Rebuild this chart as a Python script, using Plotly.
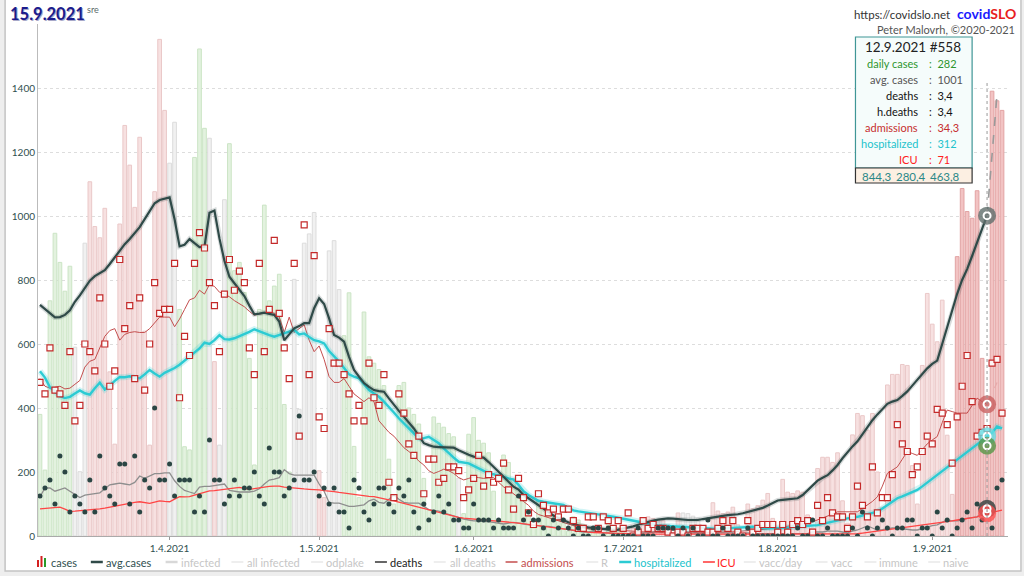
import pandas as pd
import plotly.graph_objects as go

# ---------------- data ----------------
start_date = "2021-03-06"
info_date = "2021-09-12"
chart_date = "15.9.2021"

cases = [
    380, 206, 735, 946, 855, 765, 843,
    590, 201, 915, 1107, 967, 932, 1024,
    513, 287, 975, 1283, 1159, 1027, 1246,
    640, 284, 1076, 1552, 1330, 1165, 1293,
    708, 279, 269, 1183, 1522, 1274, 1243,
    545, 284, 1051, 1226, 829, 855, 761,
    555, 222, 708, 1034, 735, 781, 818,
    411, 200, 802, 396, 915, 944, 1011,
    204, 120, 891, 923, 770, 626, 760,
    280, 120, 700, 560, 540, 520, 470,
    240, 100, 470, 480, 400, 380, 350,
    180, 80, 372, 352, 340, 320, 310,
    181, 70, 318, 370, 299, 290, 260,
    140, 50, 253, 230, 180, 150, 120,
    80, 25, 110, 100, 75, 60, 50,
    40, 15, 60, 50, 35, 25, 20,
    15, 8, 45, 30, 25, 20, 25,
    25, 8, 55, 60, 55, 50, 48,
    35, 10, 72, 72, 70, 62, 55,
    30, 10, 104, 78, 70, 75, 90,
    35, 12, 100, 85, 95, 112, 133,
    55, 19, 177, 137, 133, 141, 137,
    66, 25, 211, 246, 246, 230, 260,
    110, 40, 316, 383, 376, 331, 383,
    200, 90, 472, 505, 505, 536, 533,
    220, 100, 533, 758, 662, 607, 737,
    315, 130, 873, 1086, 1014, 993, 1079,
    555, 282, 1390, 1360, 1330,
]

avg_cases = [
    722, 708, 697, 683, 684, 691, 705, 732, 752, 774,
    798, 812, 822, 831, 850, 872, 893, 912, 928, 946,
    965, 990, 1015, 1040, 1050, 1055, 1058, 990, 905, 910,
    928, 915, 903, 904, 1010, 1017, 930, 860, 810, 790,
    770, 750, 720, 693, 695, 698, 694, 691, 670, 612,
    630, 649, 656, 665, 665, 712, 743, 725, 680, 628,
    620, 607, 560, 519, 498, 478, 466, 456, 453, 451,
    430, 409, 391, 373, 355, 336, 313, 290, 284, 279,
    278, 277, 276, 276, 268, 260, 254, 248, 246, 245,
    231, 217, 201, 185, 170, 154, 145, 128, 118, 107,
    96, 86, 73, 64, 56, 49, 43, 38, 33, 29,
    27, 25, 23, 22, 21, 19, 20, 23, 27, 30,
    35, 40, 45, 48, 51, 54, 55, 54, 52, 50,
    50, 50, 50, 53, 56, 59, 61, 63, 65, 66,
    68, 71, 75, 79, 83, 88, 95, 103, 111, 113,
    115, 117, 118, 128, 142, 158, 173, 182, 190, 205,
    222, 243, 262, 280, 296, 318, 342, 362, 380, 398,
    413, 420, 425, 438, 452, 470, 488, 505, 524, 538,
    548, 600, 652, 705, 757, 800, 834, 875, 920, 960, 1001,
]
avg_cases_week_before = 860
avg_cases_projection = [1001, 1380]   # 12.9 -> 14.9 (dashed)

deaths = [
    5,
    6, 7, 4, 10, 8, 3, 5, 4, 3, 7, 3, 10, 6, 5, 4, 9, 9, 4, 10, 3,
    7, 6, 16, 7, 7, 9, 5, 7, 7, 7, 3, 5, 3, 12, 7, 7, 4, 5, 7, 5,
    6, 6, 8, 5, 4, 11, 8, 8,
    5, 6, 7, 15, 7, 7, 8, 5, 6, 4, 6, 3, 3, 1, 7, 6, 3, 2, 4, 6,
    6, 4, 3, 6, 5, 7, 3, 1, 4, 2, 3, 5, 3, 4, 2, 2, 1, 1, 4, 2,
    2, 2, 1, 2, 1, 1, 1, 5,
    2, 3, 2, 2, 1, 0, 2, 1, 2, 1, 0, 1, 0, 0, 1, 1, 0, 1, 0, 0,
    0, 0, 0, 1, 0, 0, 0, 1, 1, 1, 1, 0, 1, 0, 1, 0, 0, 2, 0, 0,
    1, 0, 0, 0, 0, 1, 0, 0, 0,
    0, 0, 0, 0, 0, 0, 1, 0, 0, 2, 0, 0, 1, 0, 0, 0, 0, 1, 0, 3,
    1, 0, 1, 2, 1, 0, 1, 1, 2, 2, 0, 1, 1, 0, 3, 1, 2, 0, 1, 2,
    3, 1, 4, 2, 3, 1, 6, 7,
]

deaths_avg = [
    4.9, 6.0, 6.0, 5.6, 5.8, 6.0, 5.6, 5.2, 4.8, 5.1,
    5.2, 5.3, 5.4, 5.9, 6.4, 6.5, 6.6, 6.5, 6.4, 6.7,
    7.5, 7.2, 7.5, 7.8, 7.8, 7.9, 7.9, 6.9, 6.2, 5.7,
    5.5, 5.3, 6.1, 6.2, 6.2, 6.3, 6.4, 6.5, 5.7, 5.6,
    5.5, 5.5, 5.5, 5.6, 5.9, 6.5, 7.0, 7.1, 7.3, 8.3,
    7.8, 7.6, 7.6, 7.6, 7.6, 7.6, 6.5, 5.6, 4.2, 4.1,
    4.1, 3.9, 3.7, 3.7, 3.8, 3.9, 4.4, 4.6, 4.2, 4.1,
    4.6, 5.1, 4.6, 4.2, 4.1, 4.1, 4.1, 3.7, 3.3, 3.2,
    3.1, 2.9, 2.7, 2.5, 2.3, 2.1, 2.0, 1.9, 1.9, 1.8,
    1.8, 1.7, 1.6, 1.5, 1.6, 1.7, 1.6, 1.5, 1.4, 1.3,
    1.3, 1.2, 1.2, 1.1, 1.0, 0.9, 0.8, 0.7, 0.6, 0.5,
    0.5, 0.6, 0.5, 0.4, 0.4, 0.3, 0.3, 0.3, 0.3, 0.3,
    0.4, 0.4, 0.4, 0.5, 0.6, 0.7, 0.7, 0.7, 0.6, 0.6,
    0.5, 0.5, 0.4, 0.3, 0.4, 0.4, 0.4, 0.4, 0.4, 0.4,
    0.3, 0.3, 0.4, 0.3, 0.3, 0.3, 0.3, 0.3, 0.2, 0.2,
    0.2, 0.3, 0.3, 0.3, 0.3, 0.5, 0.5, 0.5, 0.6, 0.6,
    0.6, 0.5, 0.4, 0.6, 0.75, 1.0, 1.25, 1.0, 0.75, 0.8,
    0.9, 1.0, 1.0, 0.9, 0.8, 0.75, 0.75, 0.9, 1.1, 1.3,
    1.4, 1.7, 2.0, 1.9, 1.9, 2.0, 2.2, 2.3, 2.4, 2.9, 3.4,
]

admissions = [
    40,
    37, 49, 38, 37, 34, 48, 30, 34, 50, 48, 43, 62, 50, 39, 43, 72, 54, 60, 41, 62,
    38, 50, 66, 58, 59, 59, 71, 36, 52, 47, 71, 79, 75, 66, 60, 48, 63, 72, 64, 69,
    66, 49, 42, 71, 48, 59, 77, 58,
    49, 41, 71, 26, 81, 42, 73, 31, 28, 54, 45, 45, 42, 37, 30, 34, 30, 45, 36, 34,
    42, 14, 10, 37, 32, 24, 21, 26, 11, 20, 20, 14, 15, 18, 18, 17, 10, 12, 15, 21,
    13, 16, 14, 15, 19, 12, 7, 15,
    10, 6, 3, 11, 8, 6, 7, 5, 7, 7, 4, 2, 2, 5, 5, 2, 5, 4, 2, 4,
    2, 6, 0, 1, 4, 2, 3, 2, 2, 1, 0, 1, 1, 0, 2, 2, 2, 1, 1, 2,
    4, 2, 4, 1, 0, 4, 1, 2, 3,
    3, 3, 1, 3, 1, 3, 4, 3, 4, 1, 8, 4, 10, 6, 5, 5, 2, 5, 13, 8,
    5, 18, 6, 10, 10, 16, 29, 24, 22, 16, 18, 22, 26, 24, 33, 32, 29, 19, 31, 39,
    47, 35, 26, 27, 28, 45, 46, 32,
]

admissions_avg = [
    41, 39, 38.5, 38.7, 39, 38.3, 38.5, 39.5, 40.5, 44,
    45.5, 46, 49, 52, 53.5, 54, 51, 52.5, 53, 53.2,
    53, 53, 54, 55.5, 57, 57, 57, 54.5, 56.5, 59,
    61.5, 62, 64, 63, 65.5, 65, 63.5, 63, 62.3, 61.3,
    60.5, 59.7, 58.5, 57.5, 57.8, 58, 58.2, 58, 57, 53,
    57, 53, 54, 55, 51, 48, 49.5, 46, 41.5, 40,
    40, 41, 39, 37, 36, 35, 36, 35, 30, 28.5,
    27, 26, 24.5, 23, 22, 21, 19.5, 18.5, 17, 16.3,
    16.8, 17.4, 17, 16.3, 15.2, 14.6, 15, 15.4, 15.2, 15,
    15.2, 15.2, 14, 12.8, 12, 11.1, 10, 9, 8, 6.5,
    5.6, 5.2, 4.8, 4.4, 4, 3.5, 3.1, 2.6, 2.3, 2.1,
    1.9, 1.7, 1.7, 1.7, 1.6, 1.6, 1.5, 1.4, 1.3, 1.2,
    1.1, 1.1, 1.0, 1.0, 1.0, 0.9, 0.8, 0.7, 0.7, 0.7,
    0.7, 0.7, 0.8, 0.9, 1.0, 1.0, 1.0, 1.1, 1.1, 1.1,
    1.2, 1.3, 1.4, 1.4, 1.5, 1.6, 1.8, 2.0, 2.2, 2.4,
    2.6, 2.8, 3.0, 3.2, 3.3, 3.7, 4.2, 4.6, 5.0, 5.7,
    6.3, 6.3, 6.2, 6.3, 6.3, 7.2, 8.1, 9.0, 10.2, 13.0,
    16.3, 17.2, 18, 20, 22, 21.5, 21, 22.5, 24, 25,
    25.9, 29.5, 32.8, 32.4, 32, 32, 32, 34, 35.9, 35, 34.3,
]
admissions_projection = [34.3, 40.0]   # 12.9 -> 14.9 (dashed)

hospitalized = [
    515, 495, 465, 450, 437, 431, 435, 445, 455, 446,
    442, 462, 479, 458, 470, 485, 497, 496, 499, 494,
    493, 505, 519, 508, 498, 510, 517, 525, 535, 548,
    562, 575, 586, 604, 600, 612, 628, 615, 614, 618,
    624, 630, 638, 646, 640, 632, 628, 623, 628, 633,
    638, 644, 630, 633, 622, 612, 608, 602, 578, 562,
    545, 525, 505, 498, 493, 475, 456, 445, 435, 420,
    404, 386, 368, 352, 336, 320, 305, 306, 310, 300,
    290, 274, 258, 245, 232, 229, 227, 219, 211, 204,
    196, 193, 190, 185, 180, 176, 160, 140, 128, 118,
    110, 107, 104, 101, 99, 97, 88, 80, 77, 75,
    73, 71, 68, 66, 63, 60, 57, 54, 51, 48,
    45, 41, 38, 35, 33, 32, 31, 29, 28, 27,
    26, 25, 24, 23, 22, 21, 22, 23, 24, 25,
    26, 27, 28, 29, 26, 24, 24, 24, 24, 25,
    26, 28, 29, 30, 31, 33, 34, 38, 42, 46,
    50, 52, 55, 57, 60, 64, 68, 72, 76, 86,
    97, 107, 118, 124, 131, 137, 144, 155, 167, 179,
    191, 203, 214, 226, 237, 250, 262, 274, 287, 300,
    312, 322, 342, 336,
]

icu = [
    85, 86, 88, 89, 90, 84, 77, 78, 79, 80,
    81, 83, 85, 87, 90, 93, 97, 101, 104, 105,
    107, 104, 102, 106, 110, 108, 107, 115, 123, 122,
    123, 128, 133, 137, 141, 142, 144, 146, 149, 151,
    152, 149, 146, 148, 151, 153, 155, 156, 156, 153,
    151, 149, 148, 147, 146, 146, 144, 142, 141, 139,
    136, 134, 131, 128, 127, 126, 124, 123, 119, 116,
    113, 110, 106, 102, 98, 94, 90, 86, 81, 76,
    72, 68, 64, 60, 58, 56, 54, 52, 51, 50,
    49, 48, 46, 45, 43, 42, 40, 38, 35, 33,
    30, 28, 26, 24, 22, 20, 18, 16, 14, 13,
    12, 11, 10, 9, 9, 8, 8, 8, 7, 7,
    7, 6, 6, 7, 6, 6, 5, 6, 6, 7,
    6, 6, 5, 6, 6, 7, 6, 6, 5, 6,
    6, 7, 6, 6, 6, 5, 6, 6, 7, 6,
    6, 5, 6, 6, 6, 5, 5, 6, 6, 6,
    6, 6, 6, 7, 7, 9, 11, 13, 15, 17,
    19, 21, 24, 26, 28, 30, 32, 34, 36, 38,
    40, 42, 45, 47, 50, 52, 55, 57, 60, 65,
    71, 74, 77, 81,
]

# plotted on the cases axis with these multipliers
DEATHS_SCALE = 25
ADMISSIONS_SCALE = 12

info_rows = [
    ("daily cases", "282", "#2e962e"),
    ("avg. cases", "1001", "#555555"),
    ("deaths", "3,4", "#111111"),
    ("h.deaths", "3,4", "#111111"),
    ("admissions", "34,3", "#c62e2e"),
    ("hospitalized", "312", "#22c3cc"),
    ("ICU", "71", "#ff2020"),
]
info_footer = ["844,3", "280,4", "463,8"]

month_ticks = ["2021-04-01", "2021-05-01", "2021-06-01", "2021-07-01", "2021-08-01", "2021-09-01"]
month_labels = ["1.4.2021", "1.5.2021", "1.6.2021", "1.7.2021", "1.8.2021", "1.9.2021"]
y_ticks = [0, 200, 400, 600, 800, 1000, 1200, 1400]

# ---------------- derived ----------------
dates = pd.date_range(start_date, periods=len(cases), freq="D")
info_ts = pd.Timestamp(info_date)
n_avg = len(avg_cases)
d_avg = dates[:n_avg]
DAY = 86400000
FONT = "Lato"

fills, borders = [], []
for i, c in enumerate(cases):
    if i < n_avg:
        prev = avg_cases[i - 7] if i >= 7 else avg_cases_week_before
        r = avg_cases[i] / prev
    else:
        r = c / cases[i - 7]
    hi = dates[i] >= info_ts - pd.Timedelta(days=6)
    if r > 1.12:
        f, b = ("#f2c3c3", "#e2a3a3") if hi else ("#f7e1e1", "#eac8c8")
    elif r < 0.92:
        f, b = ("#cfe8c8", "#aed3a6") if hi else ("#e3f2df", "#cbe4c5")
    else:
        f, b = ("#e4e4e4", "#cccccc") if hi else ("#f1f1f1", "#dcdcdc")
    fills.append(f)
    borders.append(b)

# ---------------- figure ----------------
PL, PR, PT, PB = 35, 1008, 24, 536


def px(x):
    return (x - PL) / (PR - PL)


def py(y):
    return (PB - y) / (PB - PT)


fig = go.Figure()

fig.add_trace(go.Bar(
    x=dates, y=cases, width=0.74 * DAY,
    marker=dict(color=fills, line=dict(color=borders, width=1)),
    hoverinfo="skip", name="cases",
))

fig.add_trace(go.Scatter(
    x=d_avg, y=[v * DEATHS_SCALE for v in deaths_avg], mode="lines",
    line=dict(color="#8e8e8e", width=1.3), hoverinfo="skip", name="deaths"))
fig.add_trace(go.Scatter(
    x=dates, y=icu, mode="lines",
    line=dict(color="#ff4545", width=1.3), hoverinfo="skip", name="ICU"))
fig.add_trace(go.Scatter(
    x=d_avg, y=[v * ADMISSIONS_SCALE for v in admissions_avg], mode="lines",
    line=dict(color="#c44e4e", width=1), hoverinfo="skip", name="admissions"))
fig.add_trace(go.Scatter(
    x=[d_avg[-1], dates[n_avg + 1]],
    y=[v * ADMISSIONS_SCALE for v in admissions_projection], mode="lines",
    line=dict(color="#e6aaaa", width=1.2, dash="dash"), hoverinfo="skip"))
fig.add_trace(go.Scatter(
    x=dates, y=hospitalized, mode="lines",
    line=dict(color="rgba(44,203,211,0.22)", width=6), hoverinfo="skip"))
fig.add_trace(go.Scatter(
    x=dates, y=hospitalized, mode="lines",
    line=dict(color="#2ccbd3", width=2.4), hoverinfo="skip", name="hospitalized"))
fig.add_trace(go.Scatter(
    x=d_avg, y=avg_cases, mode="lines",
    line=dict(color="rgba(40,60,60,0.18)", width=5), hoverinfo="skip"))
fig.add_trace(go.Scatter(
    x=d_avg, y=avg_cases, mode="lines",
    line=dict(color="#2f4a48", width=2.2), hoverinfo="skip", name="avg.cases"))
fig.add_trace(go.Scatter(
    x=[d_avg[-1], dates[n_avg + 1]], y=avg_cases_projection, mode="lines",
    line=dict(color="#9a9a9a", width=1.6, dash="dash"), hoverinfo="skip"))

fig.add_trace(go.Scatter(
    x=dates, y=[v * ADMISSIONS_SCALE for v in admissions], mode="markers",
    marker=dict(symbol="square", size=6, color="rgba(255,255,255,0.85)",
                line=dict(color="#c42a2a", width=1.2)),
    hoverinfo="skip"))
fig.add_trace(go.Scatter(
    x=dates, y=[v * DEATHS_SCALE for v in deaths], mode="markers",
    marker=dict(symbol="circle", size=5, color="#2b4644"),
    hoverinfo="skip"))

# highlight rings on the info date
k = n_avg - 1
ring_vals = [avg_cases[k], admissions_avg[k] * ADMISSIONS_SCALE, hospitalized[k],
             cases[k], deaths_avg[k] * DEATHS_SCALE, icu[k]]
ring_cols = ["rgba(95,110,108,0.8)", "rgba(200,95,95,0.8)", "rgba(100,220,226,0.8)",
             "rgba(85,150,70,0.8)", "rgba(60,70,68,0.85)", "rgba(255,80,80,0.8)"]
fig.add_trace(go.Scatter(
    x=[info_ts] * len(ring_vals), y=ring_vals, mode="markers",
    marker=dict(size=18, color=ring_cols), hoverinfo="skip"))
fig.add_trace(go.Scatter(
    x=[info_ts] * len(ring_vals), y=ring_vals, mode="markers",
    marker=dict(symbol="circle-open", size=7, color="white", line=dict(width=2)),
    hoverinfo="skip"))

shapes = []
annos = []

# card
shapes.append(dict(type="rect", xref="paper", yref="paper", layer="below",
                   x0=px(2), x1=px(1021), y0=py(571), y1=py(-2),
                   fillcolor="white", line=dict(color="#c4c4c4", width=1.5)))
# info-date line
shapes.append(dict(type="line", xref="x", yref="y", x0=info_ts, x1=info_ts,
                   y0=0, y1=1420, line=dict(color="#9a9a9a", width=1, dash="dot")))

# title
annos.append(dict(x=px(6), y=py(15), text="<b>" + chart_date + "</b>",
                  font=dict(size=16.5, color="#a8a8c8", family=FONT)))
annos.append(dict(x=px(5), y=py(14), text="<b>" + chart_date + "</b>",
                  font=dict(size=16.5, color="#1b1b8c", family=FONT)))
annos.append(dict(x=px(82), y=py(9), text="sre",
                  font=dict(size=9, color="#5a6a6a", family=FONT)))
# header right
annos.append(dict(x=px(952), y=py(14), text="https://covidslo.net", xanchor="right",
                  font=dict(size=11.5, color="#333333", family=FONT)))
annos.append(dict(x=px(1018), y=py(13), xanchor="right",
                  text="<b><span style='color:#1a1aff'>covid</span><span style='color:#e82020'>SLO</span></b>",
                  font=dict(size=14, family=FONT)))
annos.append(dict(x=px(1017), y=py(29), text="Peter Malovrh, ©2020-2021", xanchor="right",
                  font=dict(size=11, color="#555555", family=FONT)))

# info box
shapes.append(dict(type="rect", xref="paper", yref="paper",
                   x0=px(855), x1=px(972), y0=py(168), y1=py(37),
                   fillcolor="#f5fcfb", line=dict(color="#3f9696", width=1.2)))
shapes.append(dict(type="rect", xref="paper", yref="paper",
                   x0=px(855), x1=px(972), y0=py(183), y1=py(168),
                   fillcolor="#fcefe2", line=dict(color="#333333", width=1.2)))
annos.append(dict(x=px(913), y=py(47), xanchor="center",
                  text=pd.Timestamp(info_date).strftime("%-d.%-m.%Y") + " #558",
                  font=dict(size=13.5, color="#222222", family=FONT)))
for j, (lab, val, col) in enumerate(info_rows):
    yy = py(63 + 16 * j)
    annos.append(dict(x=px(920), y=yy, xanchor="right", text=lab,
                      font=dict(size=11, color=col, family=FONT)))
    annos.append(dict(x=px(927), y=yy, xanchor="left", text=":  " + val,
                      font=dict(size=11, color=col, family=FONT)))
for xc, t in zip([877, 911, 945], info_footer):
    annos.append(dict(x=px(xc), y=py(176), xanchor="center", text=t,
                      font=dict(size=11.5, color="#2a8888", family=FONT)))

# legend
LY = 562
for (x0, x1, y0, col) in [(34, 36, 560, "#d42020"), (37.5, 39.5, 556, "#d42020"), (41, 43, 558, "#2a9a2a")]:
    shapes.append(dict(type="rect", xref="paper", yref="paper", x0=px(x0), x1=px(x1),
                       y0=py(567), y1=py(y0), fillcolor=col, line=dict(width=0)))
annos.append(dict(x=px(46), y=py(LY), xanchor="left", text="cases",
                  font=dict(size=11, color="#2f4f4f", family=FONT)))
legend_items = [
    ("avg.cases", "#2f4a48", 2.5, 88, 101, "#2f4f4f"),
    ("infected", "#d8d8d8", 2.5, 163, 176, "#c6c6c6"),
    ("all infected", "#dddddd", 1, 229, 243, "#c6c6c6"),
    ("odplake", "#dddddd", 1, 309, 322, "#c6c6c6"),
    ("deaths", "#333333", 1.5, 373, 386, "#1a1a1a"),
    ("all deaths", "#dddddd", 1, 432, 446, "#c6c6c6"),
    ("admissions", "#c44e4e", 1.5, 504, 517, "#c44e4e"),
    ("R", "#dddddd", 1, 585, 598, "#c6c6c6"),
    ("hospitalized", "#2ccbd3", 2.5, 618, 631, "#22c3cc"),
    ("ICU", "#ff3535", 1.5, 702, 714, "#ff2020"),
    ("vacc/day", "#dddddd", 1, 743, 756, "#c6c6c6"),
    ("vacc", "#dddddd", 1, 815, 828, "#c6c6c6"),
    ("immune", "#dddddd", 1, 864, 877, "#c6c6c6"),
    ("naive", "#dddddd", 1, 928, 941, "#c6c6c6"),
]
for name, lc, lw, xl, xt, tc in legend_items:
    shapes.append(dict(type="line", xref="paper", yref="paper", x0=px(xl), x1=px(xl + 12),
                       y0=py(LY), y1=py(LY), line=dict(color=lc, width=lw)))
    annos.append(dict(x=px(xt), y=py(LY), xanchor="left", text=name,
                      font=dict(size=11, color=tc, family=FONT)))

for a in annos:
    a.setdefault("xref", "paper")
    a.setdefault("yref", "paper")
    a.setdefault("showarrow", False)
    a.setdefault("xanchor", "left")
    a.setdefault("yanchor", "middle")

x0 = pd.Timestamp(start_date) - pd.Timedelta(hours=0.4 * 24)
x1 = pd.Timestamp(start_date) + pd.Timedelta(hours=194.2 * 24)

fig.update_layout(
    width=1024, height=576,
    margin=dict(l=PL, r=1024 - PR, t=PT, b=576 - PB),
    paper_bgcolor="#eeeeee", plot_bgcolor="white",
    showlegend=False, barmode="overlay", hovermode=False,
    font=dict(family=FONT, size=10, color="#2f4f4f"),
    shapes=shapes, annotations=annos,
    xaxis=dict(type="date", range=[x0, x1], tickvals=month_ticks, ticktext=month_labels,
               ticks="outside", ticklen=3, tickcolor="#999999", showgrid=False,
               showline=True, linecolor="#aaaaaa", zeroline=False,
               tickfont=dict(size=10, color="#2f4f4f")),
    yaxis=dict(range=[0, 1600], tickvals=y_ticks, showgrid=True, gridcolor="#dddddd",
               griddash="dot", showline=True, linecolor="#bbbbbb", zeroline=False,
               ticks="", tickfont=dict(size=10, color="#2f4f4f")),
)

fig.write_html(
    "out.html",
    config={"displayModeBar": False, "staticPlot": True},
    post_script="document.body.style.margin='0px';document.body.style.overflow='hidden';",
)
